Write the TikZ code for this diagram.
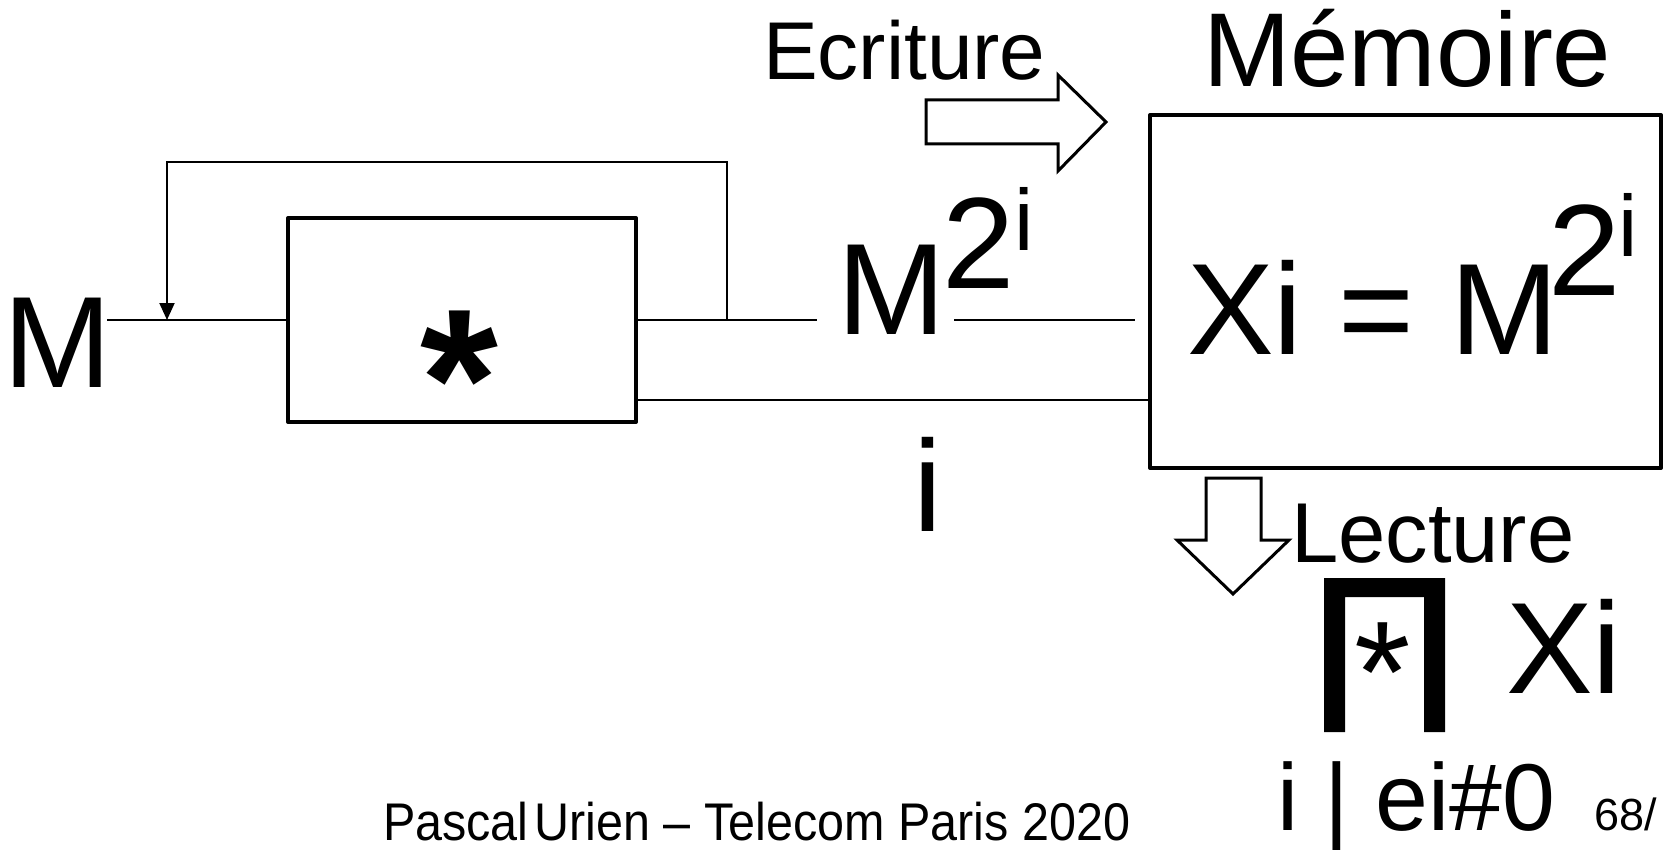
\documentclass[tikz,border=0pt]{standalone}
\usepackage{fontspec}
\setmainfont{Liberation Sans}
\usetikzlibrary{arrows.meta}
\newcommand\myfs[1]{\fontsize{#1}{#1}\selectfont}
\tikzset{
  wire/.style={line width=2pt},
  thickbox/.style={draw, line width=4pt, rectangle, inner sep=0pt, line join=round},
  lbl/.style={inner sep=0pt, outer sep=0pt, anchor=base west},
  blockarrow/.style={draw, line width=3pt, fill=white, line join=miter},
}
\begin{document}
\begin{tikzpicture}[x=1pt,y=-1pt]
\useasboundingbox (0,0) rectangle (1669,850);
% boxes
\node[thickbox, minimum width=348pt, minimum height=204pt] (mul) at (462,320) {};
\node[thickbox, minimum width=511pt, minimum height=353pt] (mem) at (1405.5,291.5) {};
\node[anchor=north, inner sep=0pt] (star) at (459,311) {\myfs{200}\bfseries *};
% labels
\node[lbl] (Min) at (3,387) {\myfs{130}M};
\node[lbl] (Msq) at (837,334) {\myfs{130}M\kern-3pt\raisebox{46pt}{2}\raisebox{84pt}{\myfs{87}i}};
\node[lbl] (ilbl) at (913,531) {\myfs{130}i};
\node[lbl] (ecr) at (763,80) {\myfs{82}Ecriture};
\node[lbl] (memt) at (1203,87) {\myfs{105}Mémoire};
\node[lbl] (eq) at (1187,354) {\myfs{130}Xi = M\kern-11pt\raisebox{59pt}{2}\kern-2pt\raisebox{98pt}{\myfs{87}i}};
\node[lbl] (lect) at (1291,562) {\myfs{85}Lecture};
\node[lbl] (xi) at (1506,693) {\myfs{130}Xi};
\node[lbl] (cond) at (1277,830) {\myfs{95}i | ei\#0};
\node[lbl] (page) at (1594,830) {\myfs{45}68/};
\node[lbl] (foot) at (383,840) {\myfs{53}\scalebox{0.915}[1]{Pascal\kern-8pt\ Urien – Telecom Paris 2020}};
\node[anchor=north, inner sep=0pt] (sstar) at (1383,623) {\myfs{145}*};
% connectors
\coordinate (m0) at (107,320);
\draw[wire] (m0) -- (mul.west);
\coordinate (fbA) at (727,320);
\coordinate (fbJ) at (167,320);
\draw[wire, -{Triangle[length=17pt,width=15pt]}] (fbA) -- (fbA |- 0,162) -- (fbJ |- 0,162) -- (fbJ);
\coordinate (o1) at (817,320);
\draw[wire] (mul.east) -- (o1);
\coordinate (o2) at (954,320);
\coordinate (o3) at (1135,320);
\draw[wire] (o2) -- (o3);
\coordinate (ia) at (636,400);
\draw[wire] (ia) -- (ia -| mem.west);
% block arrows
\draw[blockarrow] (926,100) -- (1058,100) -- (1058,75) -- (1106,122) -- (1058,171) -- (1058,144) -- (926,144) -- cycle;
\draw[blockarrow] (1206,478) -- (1261,478) -- (1261,540) -- (1289,540) -- (1233,594) -- (1177,540) -- (1206,540) -- cycle;
% product symbol
\fill (1324,732) -- (1324,578) -- (1445,578) -- (1445,732) -- (1424,732) -- (1424,597) -- (1345,597) -- (1345,732) -- cycle;
\end{tikzpicture}
\end{document}
